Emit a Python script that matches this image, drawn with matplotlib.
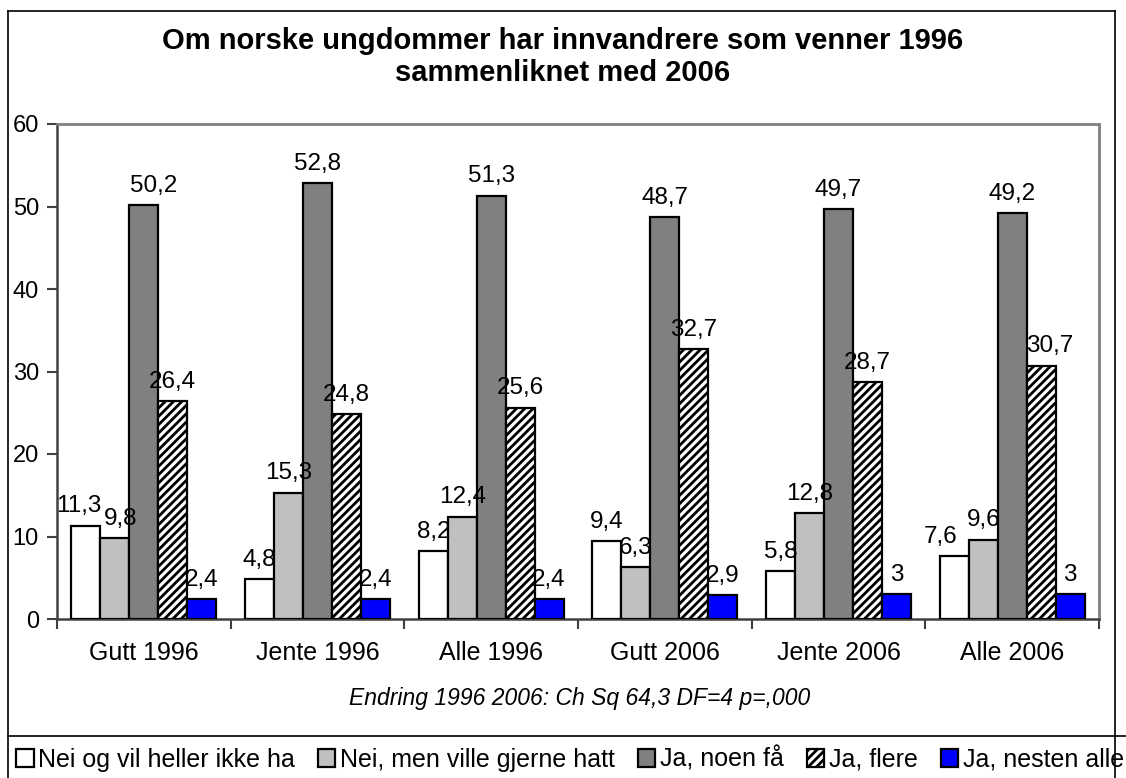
import matplotlib
matplotlib.use("Agg")
import matplotlib.pyplot as plt
from matplotlib.lines import Line2D
import numpy as np

plt.rcParams['font.family'] = ['Liberation Sans', 'DejaVu Sans']
plt.rcParams['hatch.linewidth'] = 2.0

categories = ["Gutt 1996", "Jente 1996", "Alle 1996", "Gutt 2006", "Jente 2006", "Alle 2006"]
series_names = ["Nei og vil heller ikke ha", "Nei, men ville gjerne hatt",
                "Ja, noen få", "Ja, flere", "Ja, nesten alle"]
nei_ikke = [11.3, 4.8, 8.2, 9.4, 5.8, 7.6]
nei_gjerne = [9.8, 15.3, 12.4, 6.3, 12.8, 9.6]
ja_noen = [50.2, 52.8, 51.3, 48.7, 49.7, 49.2]
ja_flere = [26.4, 24.8, 25.6, 32.7, 28.7, 30.7]
ja_nesten = [2.4, 2.4, 2.4, 2.9, 3.0, 3.0]
yticks = [0, 10, 20, 30, 40, 50, 60]
title_text = "Om norske ungdommer har innvandrere som venner 1996\nsammenliknet med 2006"
subtitle_text = "Endring 1996 2006: Ch Sq 64,3 DF=4 p=,000"

series = [nei_ikke, nei_gjerne, ja_noen, ja_flere, ja_nesten]
colors = ["#FFFFFF", "#C0C0C0", "#808080", "#FFFFFF", "#0000FF"]
hatches = [None, None, None, "////", None]
# manual horizontal nudges of some value labels (pixels), as in the original
label_nudge_px = {(0, 0): -7, (1, 0): 6, (2, 0): 10, (0, 5): -14, (3, 5): 9}

W, H = 1126, 778
fig = plt.figure(figsize=(W / 100, H / 100), dpi=100)
fig.patch.set_facecolor("white")

def fx(px):
    return px / W

def fy(py):
    return 1 - py / H

ax_l, ax_r, ax_t, ax_b = 57, 1099, 124, 619
ax = fig.add_axes([fx(ax_l), fy(ax_b), fx(ax_r - ax_l), (ax_b - ax_t) / H])

x = np.arange(len(categories))
bw = 1 / 6
handles = []
for k, (vals, c, h, name) in enumerate(zip(series, colors, hatches, series_names)):
    bars = ax.bar(x + (k - 2) * bw, vals, width=bw, color=c, edgecolor="black",
                  linewidth=1.6, hatch=h, label=name, zorder=3)
    handles.append(bars)
    for j, (xi, v) in enumerate(zip(x + (k - 2) * bw, vals)):
        s = f"{v:g}".replace(".", ",")
        dx = label_nudge_px.get((k, j), 0) * 0.72
        ax.annotate(s, (xi, v), xytext=(dx, 6), textcoords="offset points",
                    ha="center", va="bottom", fontsize=17.5, color="black", zorder=4)

ax.set_xlim(-0.5, len(categories) - 0.5)
ax.set_ylim(0, 60)
ax.set_yticks(yticks)
ax.set_yticklabels([str(t) for t in yticks], fontsize=17)
ax.set_xticks(x)
ax.set_xticklabels(categories, fontsize=18)
ax.set_xticks(np.arange(len(categories) + 1) - 0.5, minor=True)
ax.tick_params(axis="x", which="major", length=0, pad=16)
ax.tick_params(axis="x", which="minor", length=7, width=1.5, color="#404040", direction="out")
ax.tick_params(axis="y", length=7, width=1.5, color="#404040", direction="out", pad=6)

for side in ["left", "bottom"]:
    ax.spines[side].set_color("#404040")
    ax.spines[side].set_linewidth(1.8)
for side in ["top", "right"]:
    ax.spines[side].set_color("#808080")
    ax.spines[side].set_linewidth(2.0)

# Title and subtitle
fig.text(fx(563), fy(57), title_text, ha="center", va="center", fontsize=21,
         fontweight="bold", linespacing=1.2)
fig.text(fx(580), fy(698), subtitle_text, ha="center", va="center", fontsize=16.5,
         style="italic")

# Outer frame and legend separator
frame_kw = dict(color="black", linewidth=1.2, transform=fig.transFigure)
fig.add_artist(Line2D([fx(8), fx(8)], [fy(11), 0], **frame_kw))
fig.add_artist(Line2D([fx(8), fx(1115)], [fy(11), fy(11)], **frame_kw))
fig.add_artist(Line2D([fx(1115), fx(1115)], [fy(11), 0], **frame_kw))
fig.add_artist(Line2D([fx(8), 1], [fy(736), fy(736)], **frame_kw))

leg = fig.legend(handles=handles, labels=series_names, loc="center left",
                 bbox_to_anchor=(fx(16), fy(759)), ncol=5, frameon=False,
                 fontsize=18, handlelength=0.7, handleheight=0.7,
                 handletextpad=0.2, columnspacing=0.9, borderaxespad=0,
                 borderpad=0)

fig.savefig("out.png", dpi=100, facecolor="white")
